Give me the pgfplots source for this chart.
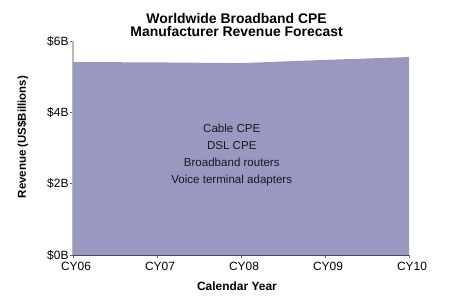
\documentclass[border=0pt]{standalone}
\usepackage{pgfplots}
\pgfplotsset{compat=1.18}
\usepackage{fontspec}
\setmainfont{Liberation Sans}
\definecolor{areafill}{HTML}{9898C0}
\definecolor{axgray}{HTML}{B8B8B8}
\begin{document}
\begin{tikzpicture}
\useasboundingbox (0,0) rectangle (471bp,303bp);
\begin{axis}[
  at={(73bp,48bp)}, anchor=origin,
  scale only axis, width=336bp, height=214bp,
  xmin=0, xmax=4, ymin=0, ymax=6,
  axis x line=bottom, axis y line=left,
  axis line style={-},
  x axis line style={draw=black!75, line width=0.8pt},
  y axis line style={draw=axgray, line width=1.6pt},
  xtick={0,1,2,3,4},
  xticklabels={CY06,CY07,CY08,CY09,CY10},
  ytick={0,2,4,6},
  yticklabels={\$0B,\$2B,\$4B,\$6B},
  tick align=outside,
  major tick length=3bp,
  tick style={draw=black!60, line width=0.6pt},
  xticklabel style={font=\fontsize{12}{13}\selectfont, yshift=-1bp, xshift=3bp},
  yticklabel style={font=\fontsize{12}{13}\selectfont, xshift=2bp},
  /pgf/number format/assume math mode=true,
  xlabel={\textbf{Calendar Year}},
  every axis x label/.style={at={(axis description cs:0.488,-0.145)}, anchor=center,
    font=\fontsize{12}{13}\selectfont},
  ylabel={\textbf{Revenue (US\$Billions)}},
  every axis y label/.style={at={(axis description cs:-0.149,0.551)}, anchor=center,
    rotate=90, font=\fontsize{11.5}{13}\selectfont},
  title={\textbf{Worldwide Broadband CPE}\\\textbf{Manufacturer Revenue Forecast}},
  every axis title/.style={at={(axis description cs:0.487,1.075)}, anchor=center,
    align=center, font=\fontsize{14}{13.5}\selectfont},
  clip=false,
]
\addplot[fill=areafill, draw=none] coordinates {
  (0,5.41) (1,5.40) (2,5.38) (3,5.47) (4,5.55)
} \closedcycle;
\node[align=center, font=\fontsize{11.6}{17}\selectfont, text=black!90] at (axis cs:1.89,2.81)
  {Cable CPE\\DSL CPE\\Broadband routers\\Voice terminal adapters};
\end{axis}
\end{tikzpicture}
\end{document}
